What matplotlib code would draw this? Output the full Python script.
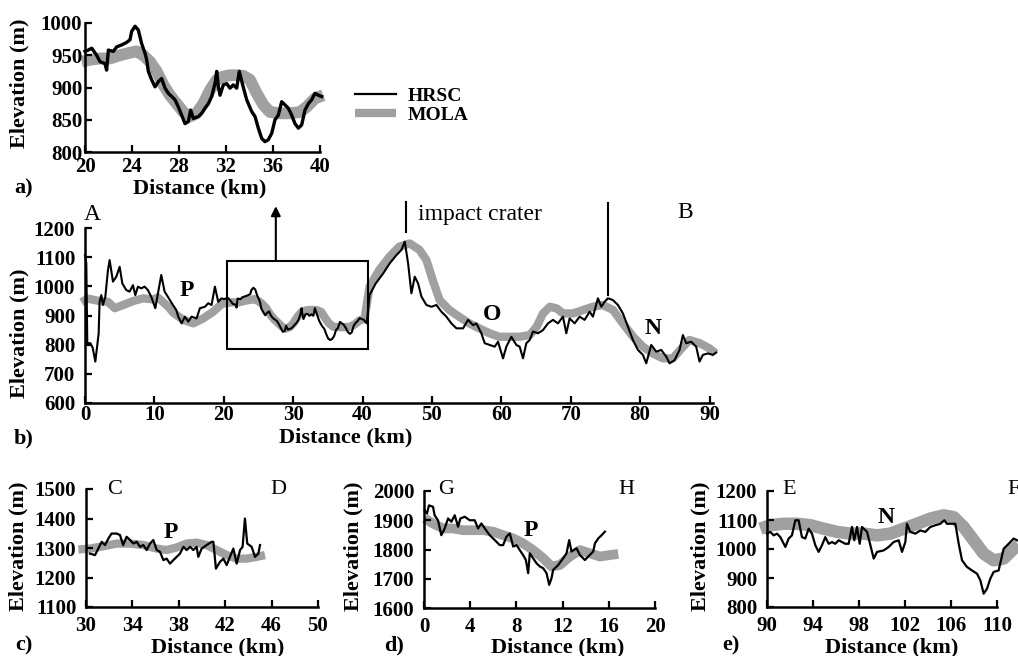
import numpy as np
import matplotlib.pyplot as plt
from matplotlib.patches import Rectangle

plt.rcParams['font.family'] = ['Liberation Serif', 'DejaVu Serif']
plt.rcParams['font.weight'] = 'bold'

W, H = 1018, 656
GREY = '#a0a0a0'

# ---- panel a (zoom of 20-40 km) ----
a_hrsc_km = [20.0, 20.28, 20.57, 20.99, 21.28, 21.70, 21.84, 21.99, 22.41, 22.70, 23.12, 23.55, 23.83, 23.97,
             24.26, 24.54, 24.82, 25.11, 25.25, 25.39, 25.67, 25.96, 26.24, 26.52, 26.81, 27.09, 27.38, 27.66,
             27.94, 28.23, 28.51, 28.79, 28.99, 29.22, 29.65, 29.93, 30.21, 30.50, 30.78, 31.06, 31.21, 31.35,
             31.49, 31.77, 32.06, 32.34, 32.62, 32.91, 33.13, 33.42, 33.76, 34.18, 34.47, 34.75, 35.04, 35.32,
             35.60, 35.89, 36.17, 36.45, 36.74, 37.02, 37.30, 37.59, 37.87, 38.16, 38.44, 38.72, 39.01, 39.29,
             39.57, 39.86, 40.14]
a_hrsc_m = [956, 958, 961, 950, 940, 937, 927, 958, 956, 963, 966, 970, 974, 987,
            995, 989, 968, 953, 943, 925, 912, 901, 909, 914, 899, 891, 886, 881,
            870, 857, 844, 847, 865, 852, 855, 860, 868, 875, 886, 906, 925, 901,
            888, 904, 906, 899, 904, 899, 925, 904, 881, 863, 855, 837, 821, 816,
            819, 829, 850, 857, 878, 873, 868, 857, 844, 837, 842, 865, 875, 881,
            891, 888, 886]
a_mola_km = [19.72, 20.43, 21.28, 22.13, 22.98, 23.83, 24.40, 24.96, 25.53, 26.10, 26.67, 27.23, 27.80,
             28.37, 28.94, 29.50, 30.07, 30.64, 31.21, 31.77, 32.34, 32.91, 33.48, 34.04, 34.61, 35.18,
             35.74, 36.60, 37.45, 38.30, 38.87, 39.57, 40.28]
a_mola_m = [940, 943, 945, 945, 950, 954, 956, 950, 940, 925, 904, 888, 875,
            862, 855, 860, 875, 896, 912, 917, 919, 919, 918, 912, 891, 873,
            862, 860, 860, 862, 870, 883, 888]

# ---- panel b (full profile A-B), 20-40 km section is the same data as panel a ----
b_hrsc_head_km = [0.0, 0.19, 0.33, 0.77, 1.1, 1.49, 1.97, 2.1, 2.35, 2.59, 2.93, 3.31, 3.55, 4.03, 4.51,
                  4.99, 5.38, 5.95, 6.43, 6.91, 7.25, 7.63, 8.11, 8.59, 9.07, 9.55, 10.13, 10.51, 10.99,
                  11.47, 11.95, 12.67, 13.15, 13.44, 13.92, 14.4, 14.88, 15.36, 16.08, 16.56, 17.28, 17.76,
                  18.24, 18.72, 19.2, 19.68]
b_hrsc_head_m = [1107, 1079, 805, 805, 790, 742, 839, 947, 970, 936, 964, 1056, 1090, 1016, 1033,
                 1067, 1010, 987, 982, 1004, 970, 999, 993, 999, 987, 964, 925, 976, 1039,
                 982, 964, 936, 919, 896, 873, 896, 879, 896, 890, 925, 930, 942,
                 936, 999, 947, 959]
b_hrsc_tail_km = [40.6, 41.0, 41.9, 42.96, 43.92, 44.88, 45.6, 46.08, 46.56, 47.04, 47.52, 48.0, 48.48,
                  49.2, 49.92, 50.64, 51.36, 52.08, 52.8, 53.52, 54.48, 55.2, 55.92, 56.4, 57.12, 57.6,
                  58.32, 59.04, 59.52, 60.24, 60.72, 61.44, 62.16, 62.64, 63.12, 63.6, 64.08, 64.56,
                  65.28, 66.0, 66.72, 67.44, 68.16, 68.88, 69.36, 69.84, 70.56, 71.28, 72.0, 72.72,
                  73.2, 73.92, 74.4, 74.88, 75.36, 76.08, 76.8, 77.52, 78.24, 78.96, 79.68, 80.4,
                  80.88, 81.6, 82.32, 83.04, 83.76, 84.24, 84.96, 85.68, 86.16, 86.64, 87.36, 88.08,
                  88.56, 89.04, 89.76, 90.48, 90.96]
b_hrsc_tail_m = [873, 970, 1010, 1044, 1079, 1107, 1125, 1153, 1079, 976, 1033, 1010, 965,
                 936, 930, 936, 913, 896, 873, 856, 856, 885, 867, 873, 839, 805,
                 799, 793, 810, 753, 793, 827, 799, 793, 753, 805, 816, 845,
                 839, 850, 873, 885, 873, 896, 839, 890, 873, 896, 885, 913,
                 896, 959, 930, 947, 959, 953, 936, 907, 862, 816, 782, 765,
                 736, 799, 776, 782, 759, 736, 747, 782, 833, 805, 810, 793,
                 742, 765, 770, 765, 773]
b_mola_head_km = [-0.5, 0.4, 2.0, 3.3, 4.3, 5.5, 7.0, 8.4, 9.84, 10.5, 11.3, 12.0, 12.7, 14.16, 15.6,
                  17.04, 18.48]
b_mola_head_m = [945, 958, 950, 947, 925, 936, 950, 959, 955, 962, 945, 930, 910, 885, 873,
                 890, 913]
b_mola_tail_km = [41.0, 42.4, 43.9, 45.3, 46.8, 48.2, 49.2, 50.1, 51.1, 52.5, 53.9, 55.4, 56.8, 58.3,
                  59.7, 61.2, 62.6, 64.1, 65.1, 66.0, 67.0, 68.0, 68.9, 70.3, 71.8, 73.2, 74.6, 76.1,
                  77.5, 79.0, 80.4, 81.8, 83.3, 84.7, 86.2, 87.1, 88.6, 90.0, 90.9]
b_mola_tail_m = [999, 1056, 1102, 1136, 1147, 1125, 1090, 1022, 953, 919, 896, 873, 856, 839,
                 827, 827, 827, 833, 862, 907, 930, 924, 907, 907, 919, 930, 936, 919,
                 873, 827, 793, 770, 753, 753, 793, 816, 805, 787, 770]

# ---- panel c (C-D) ----
c_hrsc_km = [30.34, 30.78, 31.06, 31.35, 31.64, 31.93, 32.2, 32.64, 32.93, 33.2, 33.5, 33.8, 34.08, 34.37,
             34.66, 34.94, 35.23, 35.52, 35.8, 36.1, 36.38, 36.67, 36.95, 37.24, 37.53, 37.82, 38.1, 38.4,
             38.68, 38.97, 39.25, 39.54, 39.68, 39.97, 40.4, 40.83, 40.98, 41.2, 41.55, 41.84, 42.13,
             42.41, 42.7, 42.99, 43.28, 43.5, 43.7, 43.9, 44.28, 44.57, 44.86, 45.0]
c_hrsc_m = [1281, 1276, 1298, 1321, 1310, 1332, 1349, 1349, 1344, 1310, 1338, 1327, 1315, 1321,
            1304, 1310, 1293, 1315, 1327, 1293, 1287, 1259, 1264, 1247, 1259, 1270, 1281, 1304,
            1293, 1304, 1293, 1304, 1270, 1298, 1310, 1321, 1321, 1230, 1253, 1264, 1242,
            1270, 1298, 1247, 1293, 1304, 1400, 1315, 1304, 1270, 1281, 1310]
c_mola_km = [29.34, 30.34, 31.5, 32.64, 33.8, 34.94, 36.1, 36.95, 37.82, 38.68, 39.54, 40.4, 41.26,
             42.13, 42.99, 43.85, 44.7, 45.43]
c_mola_m = [1295, 1298, 1306, 1315, 1315, 1310, 1298, 1293, 1302, 1315, 1318, 1310, 1293,
            1276, 1264, 1264, 1270, 1276]

# ---- panel d (G-H) ----
d_hrsc_km = [0.06, 0.26, 0.43, 0.78, 0.92, 1.21, 1.5, 1.79, 2.08, 2.37, 2.66, 2.95, 3.15, 3.53, 3.96,
             4.39, 4.68, 4.97, 5.26, 5.69, 6.13, 6.56, 6.85, 7.14, 7.43, 7.72, 8.01, 8.29, 8.58, 8.82,
             9.02, 9.16, 9.45, 9.74, 10.03, 10.32, 10.61, 10.84, 11.04, 11.18, 11.62, 12.05, 12.34,
             12.57, 12.77, 13.21, 13.5, 13.93, 14.22, 14.65, 14.8, 15.09, 15.38, 15.66]
d_hrsc_m = [1934, 1923, 1951, 1946, 1917, 1900, 1849, 1872, 1906, 1895, 1917, 1878, 1906, 1912, 1900,
            1900, 1872, 1889, 1872, 1849, 1832, 1815, 1815, 1844, 1855, 1810, 1815, 1798, 1781, 1764,
            1719, 1787, 1770, 1753, 1742, 1736, 1719, 1679, 1702, 1730, 1747, 1770, 1787,
            1832, 1793, 1804, 1781, 1764, 1776, 1793, 1821, 1838, 1849, 1861]
d_mola_km = [0.06, 0.78, 1.65, 2.51, 3.38, 4.25, 5.12, 5.98, 6.85, 7.72, 8.58, 9.45, 10.32, 11.04,
             11.76, 12.63, 13.5, 14.36, 15.23, 16.1, 16.82]
d_mola_m = [1906, 1889, 1872, 1872, 1866, 1866, 1866, 1861, 1849, 1838, 1821, 1798, 1770, 1742,
            1747, 1776, 1798, 1787, 1776, 1781, 1785]

# ---- panel e (E-F) ----
e_hrsc_km = [90.0, 90.29, 90.58, 90.87, 91.16, 91.6, 91.88, 92.17, 92.46, 92.75, 93.04, 93.33, 93.62,
             93.91, 94.2, 94.49, 94.78, 95.07, 95.36, 95.65, 95.94, 96.23, 96.52, 96.81, 97.1, 97.39,
             97.59, 97.83, 98.06, 98.26, 98.7, 98.99, 99.28, 99.57, 100.14, 100.58, 101.01, 101.45,
             101.74, 102.03, 102.17, 102.46, 102.9, 103.33, 103.77, 104.2, 104.64, 105.07, 105.42,
             105.65, 106.09, 106.38, 106.67, 106.96, 107.39, 107.83, 108.26, 108.55, 108.84, 109.13,
             109.42, 109.71, 110.14, 110.58, 111.01, 111.45, 111.74]
e_hrsc_m = [1053, 1059, 1047, 1053, 1041, 1007, 1036, 1047, 1099, 1099, 1041, 1036, 1070,
            1053, 1013, 990, 1013, 1041, 1018, 1024, 1018, 1030, 1024, 1018, 1018, 1076,
            1030, 1076, 1018, 1076, 1059, 1013, 967, 990, 995, 1007, 1024, 1030,
            990, 1024, 1087, 1059, 1053, 1064, 1059, 1076, 1082, 1087, 1099,
            1087, 1087, 1087, 1018, 961, 938, 926, 915, 892, 846, 863,
            898, 921, 926, 1001, 1018, 1036, 1030]
e_mola_km = [89.42, 90.29, 91.45, 92.61, 93.77, 94.93, 96.09, 97.25, 98.41, 99.57, 100.72, 101.88,
             103.04, 104.2, 105.36, 106.23, 107.1, 107.97, 108.84, 109.71, 110.58, 111.45, 111.88]
e_mola_m = [1070, 1082, 1087, 1087, 1082, 1070, 1059, 1053, 1053, 1047, 1053, 1070,
            1087, 1105, 1116, 1110, 1076, 1030, 984, 961, 967, 1001, 1013]

# annotation positions in panel b
box_km = (20.5, 40.8)
box_m = (785, 1087)
arrow_km, arrow_top = 27.5, 1275
crater_km, crater_m = (46.3, (1186, 1290))
line2_km, line2_m = (75.4, (970, 1286))


fig = plt.figure(figsize=(W / 100, H / 100), dpi=100)


def px_axes(x0, y_top, x1, y_bot):
    return fig.add_axes([x0 / W, 1 - y_bot / H, (x1 - x0) / W, (y_bot - y_top) / H])


def style(ax, xt, yt, xpad, ypad):
    ax.spines['top'].set_visible(False)
    ax.spines['right'].set_visible(False)
    for s in ['left', 'bottom']:
        ax.spines[s].set_linewidth(1.8)
    ax.tick_params(direction='in', length=5, width=1.6, labelsize=15)
    ax.tick_params(axis='x', pad=xpad)
    ax.tick_params(axis='y', pad=ypad)
    ax.set_xticks(xt)
    ax.set_yticks(yt)
    ax.set_facecolor('none')


def profile(ax, hk, hm, mk, mm, hw, mw):
    ax.plot(mk, mm, color=GREY, lw=mw, solid_capstyle='butt', clip_on=False, zorder=1)
    ax.plot(hk, hm, color='black', lw=hw, clip_on=False, zorder=2)


def label_fig(x, y, s, **kw):
    fig.text(x / W, 1 - y / H, s, fontsize=16, ha='center', va='center', **kw)


# a)
ax_a = px_axes(85, 23, 320, 152)
profile(ax_a, a_hrsc_km, a_hrsc_m, a_mola_km, a_mola_m, 2.4, 8.5)
ax_a.set_xlim(20, 40)
ax_a.set_ylim(800, 1000)
style(ax_a, range(20, 41, 4), range(800, 1001, 50), 3.5, 2)
hrsc_proxy, = ax_a.plot([], [], color='black', lw=1.6)
mola_proxy, = ax_a.plot([], [], color=GREY, lw=6, solid_capstyle='butt')
fig.legend([hrsc_proxy, mola_proxy], ['HRSC', 'MOLA'], loc='upper left',
           bbox_to_anchor=(355 / W, 1 - 87 / H), frameon=False, fontsize=14,
           handlelength=2.1, handletextpad=0.6, labelspacing=0.1, borderpad=0, borderaxespad=0)

# b)
ax_b = px_axes(85, 228, 713, 403)
hrsc_b_km = b_hrsc_head_km + a_hrsc_km + b_hrsc_tail_km
hrsc_b_m = b_hrsc_head_m + a_hrsc_m + b_hrsc_tail_m
mola_b_km = b_mola_head_km + a_mola_km + b_mola_tail_km
mola_b_m = b_mola_head_m + a_mola_m + b_mola_tail_m
profile(ax_b, hrsc_b_km, hrsc_b_m, mola_b_km, mola_b_m, 1.5, 6)
ax_b.set_xlim(0, 90.5)
ax_b.set_ylim(600, 1200)
style(ax_b, range(0, 91, 10), range(600, 1201, 100), 1.5, 7)
ax_b.add_patch(Rectangle((box_km[0], box_m[0]), box_km[1] - box_km[0], box_m[1] - box_m[0],
                         fill=False, lw=1.5, ec='black', zorder=3))
ax_b.annotate('', xy=(arrow_km, arrow_top), xytext=(arrow_km, box_m[1]), annotation_clip=False,
              arrowprops=dict(arrowstyle='-|>', lw=1.5, color='black', mutation_scale=14, shrinkA=0, shrinkB=0))
ax_b.plot([crater_km, crater_km], crater_m, color='black', lw=1.5, clip_on=False)
ax_b.plot([line2_km, line2_km], line2_m, color='black', lw=1.5, clip_on=False)
ax_b.text(48.0, 1248, 'impact crater', fontsize=17, fontweight='normal', va='center')
ax_b.text(-0.2, 1245, 'A', fontsize=17, fontweight='normal', va='center')
ax_b.text(85.3, 1252, 'B', fontsize=17, fontweight='normal', va='center')
ax_b.text(13.7, 987, 'P', fontsize=17, va='center')
ax_b.text(57.4, 902, 'O', fontsize=17, va='center')
ax_b.text(80.6, 857, 'N', fontsize=17, va='center')

# c)
ax_c = px_axes(86, 489, 318, 607)
profile(ax_c, c_hrsc_km, c_hrsc_m, c_mola_km, c_mola_m, 1.6, 6)
ax_c.set_xlim(30, 50)
ax_c.set_ylim(1100, 1500)
style(ax_c, range(30, 51, 4), range(1100, 1501, 100), 6.5, 7)
ax_c.text(31.8, 1500, 'C', fontsize=16, fontweight='normal', va='center')
ax_c.text(45.9, 1500, 'D', fontsize=16, fontweight='normal', va='center')
ax_c.text(36.7, 1352, 'P', fontsize=17, va='center')

# d)
ax_d = px_axes(424, 491, 655, 608)
profile(ax_d, d_hrsc_km, d_hrsc_m, d_mola_km, d_mola_m, 1.6, 7)
ax_d.set_xlim(0, 20)
ax_d.set_ylim(1600, 2000)
style(ax_d, range(0, 21, 4), range(1600, 2001, 100), 6.5, 7)
ax_d.text(1.2, 2005, 'G', fontsize=16, fontweight='normal', va='center')
ax_d.text(16.8, 2005, 'H', fontsize=16, fontweight='normal', va='center')
ax_d.text(8.6, 1865, 'P', fontsize=17, va='center')

# e)
ax_e = px_axes(767, 491, 997, 607)
profile(ax_e, e_hrsc_km, e_hrsc_m, e_mola_km, e_mola_m, 1.6, 9)
ax_e.set_xlim(90, 110)
ax_e.set_ylim(800, 1200)
style(ax_e, range(90, 111, 4), range(800, 1201, 100), 6.5, 7)
ax_e.text(91.3, 1205, 'E', fontsize=16, fontweight='normal', va='center')
ax_e.text(110.9, 1205, 'F', fontsize=16, fontweight='normal', va='center')
ax_e.text(99.6, 1108, 'N', fontsize=17, va='center')

# axis titles and panel letters
for x, y in [(200, 188), (346, 437), (218, 647), (558, 647), (892, 647)]:
    label_fig(x, y, 'Distance (km)')
for x, y in [(19, 83), (19, 333), (18, 546), (353, 546), (700, 546)]:
    label_fig(x, y, 'Elevation (m)', rotation=90)
for x, y, s in [(24, 188, 'a)'), (24, 438, 'b)'), (24, 645, 'c)'), (394, 645, 'd)'), (731, 645, 'e)')]:
    label_fig(x, y, s)

fig.savefig('out.png', dpi=100)
